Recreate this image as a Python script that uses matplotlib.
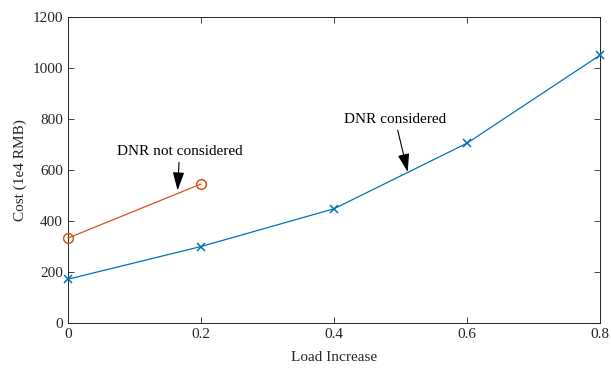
import matplotlib
matplotlib.use("Agg")
import matplotlib.pyplot as plt

load_increase = [0, 0.2, 0.4, 0.6, 0.8]
cost_dnr = [172, 300, 448, 705, 1050]
load_no_dnr = [0, 0.2]
cost_no_dnr = [333, 545]

plt.rcParams['font.family'] = ['Liberation Serif', 'DejaVu Serif']
plt.rcParams['font.size'] = 11

fig = plt.figure(figsize=(6.11, 3.68), dpi=100)
ax = fig.add_axes([0.111, 0.122, 0.871, 0.832])

ax.plot(load_increase, cost_dnr, color='#0072BD', lw=0.9, marker='x', ms=6, mew=1.1,
        clip_on=False, zorder=3)
ax.plot(load_no_dnr, cost_no_dnr, color='#D95319', lw=0.9, marker='o', ms=7,
        mfc='none', mew=1.1, clip_on=False, zorder=3)

ax.set_xlim(0, 0.8)
ax.set_ylim(0, 1200)
ax.set_xticks([0, 0.2, 0.4, 0.6, 0.8])
ax.set_xticklabels(['0', '0.2', '0.4', '0.6', '0.8'])
ax.set_yticks([0, 200, 400, 600, 800, 1000, 1200])
ax.tick_params(direction='in', top=True, right=True, length=4, width=0.6,
               colors='#262626', labelcolor='#262626', labelsize=11)
for s in ax.spines.values():
    s.set_linewidth(0.7)
    s.set_color('#262626')

ax.set_xlabel('Load Increase', fontsize=11, color='#262626', labelpad=7)
ax.set_ylabel('Cost (1e4 RMB)', fontsize=11, color='#262626')

arrow = dict(arrowstyle='-|>,head_length=0.7,head_width=0.22', color='k', lw=0.8,
             mutation_scale=16, shrinkA=1, shrinkB=0)
ax.annotate('DNR not considered', xy=(0.165, 520), xytext=(0.168, 672),
            ha='center', va='center', fontsize=11, arrowprops=arrow)
ax.annotate('DNR considered', xy=(0.511, 592), xytext=(0.492, 798),
            ha='center', va='center', fontsize=11, arrowprops=arrow)

fig.savefig('out.png', dpi=100)
